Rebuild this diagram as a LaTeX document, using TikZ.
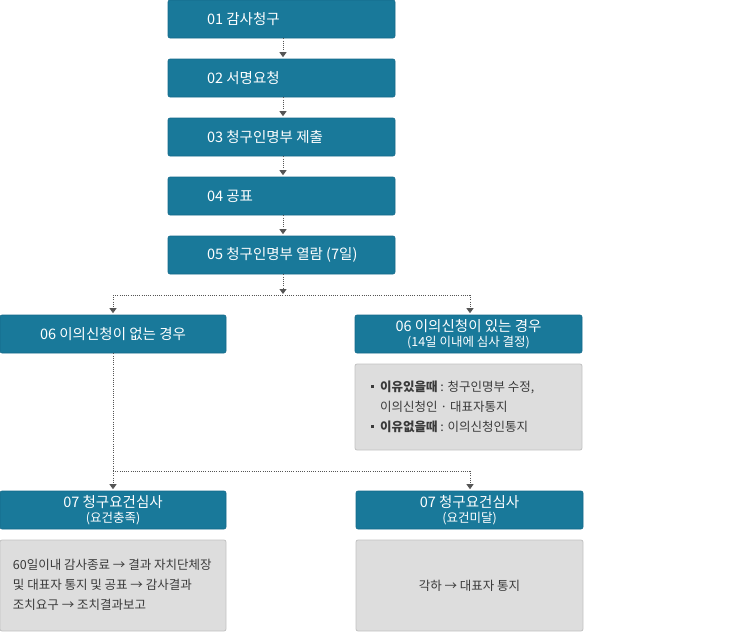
\documentclass[tikz,border=0pt]{standalone}
\usepackage{fontspec}
\setmainfont{Noto Sans CJK KR}
\usetikzlibrary{arrows.meta}
\definecolor{bluec}{HTML}{19799A}
\definecolor{blueb}{HTML}{15698A}
\definecolor{grayf}{HTML}{DDDDDD}
\definecolor{grayb}{HTML}{C2C2C2}
\definecolor{linec}{HTML}{555555}
\definecolor{txtc}{HTML}{3A3A3A}
\tikzset{
  bluebox/.style={fill=bluec, draw=blueb, line width=0.6pt, rounded corners=2pt, minimum width=227pt, minimum height=38pt, inner sep=0pt, text=white, font=\fontsize{14.5}{15}\selectfont, align=center},
  graybox/.style={fill=grayf, draw=grayb, line width=0.8pt, rounded corners=2pt, minimum width=227pt, inner sep=0pt, text=txtc, font=\fontsize{12.5}{20}\selectfont},
  dotline/.style={draw=linec, line width=0.9pt, dash pattern=on 1pt off 1.2pt},
  flow/.style={dotline, -{Triangle[width=7pt,length=5pt]}, shorten >=1.5pt},
}
\newcommand{\subl}[1]{{\fontsize{12.5}{15}\selectfont #1}}
\newcommand{\sqb}{\rule[3pt]{3pt}{3pt}}
\begin{document}
\begin{tikzpicture}[x=1pt,y=-1pt]
\useasboundingbox (0,0) rectangle (740,632);
% top column
\node[bluebox] (b1) at (281.5,19)  {\makebox[149pt][l]{01 감사청구}};
\node[bluebox] (b2) at (281.5,78)  {\makebox[149pt][l]{02 서명요청}};
\node[bluebox] (b3) at (281.5,137) {\makebox[149pt][l]{03 청구인명부 제출}};
\node[bluebox] (b4) at (281.5,196) {\makebox[149pt][l]{04 공표}};
\node[bluebox] (b5) at (281.5,255) {\makebox[149pt][l]{05 청구인명부 열람 (7일)}};
\foreach \a/\b in {b1/b2,b2/b3,b3/b4,b4/b5}
  \draw[flow] ([xshift=1.5pt]\a.south) -- ([xshift=1.5pt]\b.north);
% level 06
\node[bluebox, minimum width=226pt] (c1) at (113,334) {06 이의신청이 없는 경우};
\node[bluebox] (c2) at (468.5,334) {06 이의신청이 있는 경우\\\subl{(14일 이내에 심사 결정)}};
\node[graybox, minimum height=86pt] (g1) at (468.5,407) {\makebox[227pt][l]{\hspace{16pt}%
  \begin{tabular}{@{}l@{\hspace{6pt}}l@{}}
  \sqb & \textbf{이유있을때} : 청구인명부 수정,\\
       & 이의신청인 · 대표자통지\\
  \sqb & \textbf{이유없을때} : 이의신청인통지
  \end{tabular}}};
\coordinate (ja) at (283,294);
\coordinate (jl) at (113,295);
\coordinate (jr) at (470,295);
\draw[flow, shorten >=0pt] ([xshift=1.5pt]b5.south) -- (ja);
\draw[dotline] (jl) -- (jr);
\draw[flow] (jl) -- (c1.north -| jl);
\draw[flow] (jr) -- (c2.north -| jr);
% level 07
\node[bluebox, minimum width=226pt] (d1) at (113,510) {07 청구요건심사\\\subl{(요건충족)}};
\node[bluebox] (d2) at (469.5,510) {07 청구요건심사\\\subl{(요건미달)}};
\coordinate (kl) at (113,471);
\coordinate (kr) at (470,471);
\draw[dotline] (c1.south) -- (kl);
\draw[dotline] (kl) -- (kr);
\draw[flow] (kl) -- (d1.north);
\draw[flow] (kr) -- (d2.north -| kr);
% bottom gray boxes
\node[graybox, minimum width=226pt, minimum height=91pt] (g2) at (113,585.5) {\makebox[226pt][l]{\hspace{13pt}%
  \begin{tabular}{@{}l@{}}
  60일이내 감사종료 → 결과 자치단체장\\
  및 대표자 통지 및 공표 → 감사결과\\
  조치요구 → 조치결과보고
  \end{tabular}}};
\node[graybox, minimum height=91pt] (g3) at (469.5,585.5) {각하 → 대표자 통지};
\end{tikzpicture}
\end{document}
